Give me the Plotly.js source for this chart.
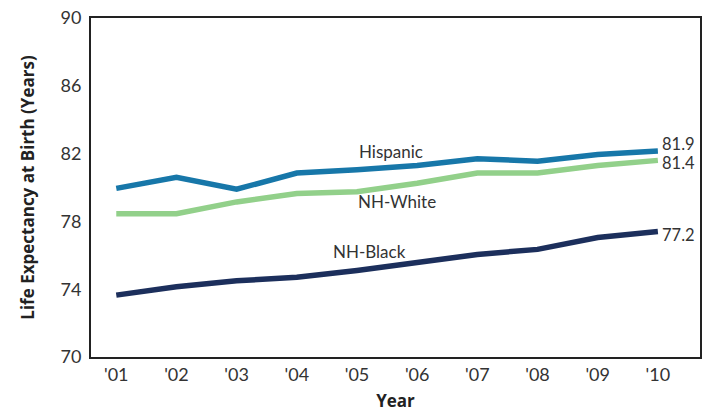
<!DOCTYPE html>
<html>
<head>
<meta charset="utf-8">
<script src="https://cdn.plot.ly/plotly-3.0.1.min.js"></script>
<style>
html,body{margin:0;padding:0;background:#fff;}
#chart{width:705px;height:414px;}
</style>
</head>
<body>
<div id="chart"></div>
<script>
const years = ["'01","'02","'03","'04","'05","'06","'07","'08","'09","'10"];
const hispanic = [79.95, 80.6, 79.9, 80.85, 81.05, 81.3, 81.7, 81.55, 81.95, 82.15];
const nhWhite  = [78.45, 78.45, 79.15, 79.65, 79.75, 80.25, 80.85, 80.85, 81.3, 81.6];
const nhBlack  = [73.65, 74.15, 74.5, 74.7, 75.1, 75.6, 76.05, 76.35, 77.05, 77.4];
const endLabels = ["81.9", "81.4", "77.2"];
const yTicks = [70, 74, 78, 82, 86, 90];

const xs = years.map((_, i) => i);
const font = "Lato, 'Open Sans', sans-serif";
const titleFont = "'Open Sans', Lato, sans-serif";

const traces = [
  {x: xs, y: nhBlack, mode: 'lines', line: {color: '#1c2f5c', width: 5.5}, hoverinfo: 'skip'},
  {x: xs, y: nhWhite, mode: 'lines', line: {color: '#92d08a', width: 5.5}, hoverinfo: 'skip'},
  {x: xs, y: hispanic, mode: 'lines', line: {color: '#1777a9', width: 5.5}, hoverinfo: 'skip'}
];

const last = xs.length - 1;
const annFont = {family: font, size: 17, color: '#333'};
const endFont = {family: font, size: 16.5, color: '#333'};
const annotations = [
  {x: 4, y: hispanic[4], text: 'Hispanic', showarrow: false, yanchor: 'middle', xanchor: 'center', xshift: 34, yshift: 18, font: annFont},
  {x: 4, y: nhWhite[4], text: 'NH-White', showarrow: false, yanchor: 'middle', xanchor: 'center', xshift: 40, yshift: -10, font: annFont},
  {x: 4, y: nhBlack[4], text: 'NH-Black', showarrow: false, yanchor: 'middle', xanchor: 'center', xshift: 13, yshift: 19, font: annFont},
  {x: last, y: hispanic[last], text: endLabels[0], showarrow: false, xanchor: 'left', yanchor: 'middle', xshift: 3, yshift: 7, borderpad: 0, font: endFont},
  {x: last, y: nhWhite[last], text: endLabels[1], showarrow: false, xanchor: 'left', yanchor: 'middle', xshift: 3, yshift: -3, borderpad: 0, font: endFont},
  {x: last, y: nhBlack[last], text: endLabels[2], showarrow: false, xanchor: 'left', yanchor: 'middle', xshift: 3, yshift: -3, borderpad: 0, font: endFont}
];

const layout = {
  width: 705, height: 414,
  margin: {l: 91, r: 5, t: 18, b: 57},
  paper_bgcolor: '#fff', plot_bgcolor: '#fff',
  showlegend: false,
  xaxis: {
    range: [-0.42, 9.7], tickvals: xs, ticktext: years,
    showgrid: false, zeroline: false,
    showline: true, linecolor: '#222', linewidth: 2, mirror: true,
    ticks: '', ticklabelstandoff: 0,
    tickfont: {family: font, size: 18, color: '#333'},
    title: {text: '<b>Year</b>', font: {family: titleFont, size: 17, color: '#222'}, standoff: 12}
  },
  yaxis: {
    range: [70, 90], tickvals: yTicks,
    showgrid: false, zeroline: false,
    showline: true, linecolor: '#222', linewidth: 2, mirror: true,
    ticks: '', ticklabelstandoff: 4,
    tickfont: {family: font, size: 18, color: '#333'},
    title: {text: '<b>Life Expectancy at Birth (Years)</b>', font: {family: titleFont, size: 17, color: '#222'}, standoff: 22}
  },
  annotations: annotations
};

Plotly.newPlot('chart', traces, layout, {staticPlot: true, displayModeBar: false});
</script>
</body>
</html>
